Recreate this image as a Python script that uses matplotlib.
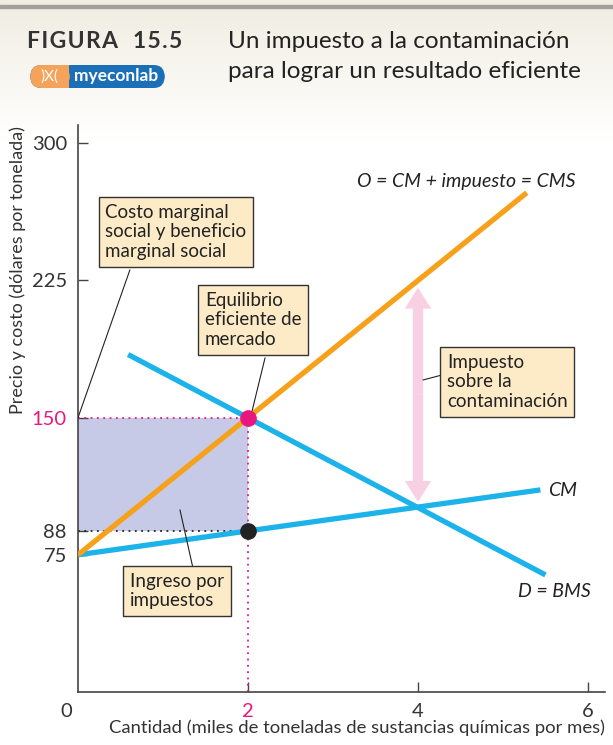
import numpy as np
import matplotlib.pyplot as plt
from matplotlib.patches import FancyArrowPatch, FancyBboxPatch, Rectangle

plt.rcParams['font.family'] = ['Lato', 'DejaVu Sans']

# datos del gráfico (miles de toneladas, dólares por tonelada)
q_cms = [0, 5.28]
p_cms = [75, 273]
q_cm = [0, 5.44]
p_cm = [75, 110.5]
q_d = [0.59, 5.5]
p_d = [184.5, 64]
q_eq = 2
p_eq = 150
p_cm_eq = 88
q_mercado = 4
p_tax_top = 221
p_tax_bot = 104

yticks = [75, 88, 150, 225, 300]
ytick_labels = ['75', '88', '150', '225', '300']
xticks = [2, 4, 6]
xtick_labels = ['2', '4', '6']

naranja = '#f7a11a'
azul = '#1cb2ea'
magenta = '#e8177f'
lila = '#c6cae6'
crema = '#fdebc8'

fig = plt.figure(figsize=(6.13, 7.45), dpi=100)

# fondo con degradado crema arriba
bg = fig.add_axes([0, 0, 1, 1], zorder=-10)
bg.axis('off')
grad = np.ones((745, 1, 3))
top = np.array([0.945, 0.933, 0.89])
for i in range(745):
    t = min(1.0, max(0.0, (i - 10) / 130))
    grad[i, 0] = top * (1 - t) + np.array([1, 1, 1]) * t
bg.imshow(grad, aspect='auto', extent=[0, 1, 0, 1])
bg.set_xlim(0, 1)
bg.set_ylim(0, 1)
bg.add_patch(Rectangle((0, 1 - 8 / 745), 1, 3 / 745, color='#a0a0a0', transform=bg.transAxes))

def fx(px):
    return px / 613

def fy(py):
    return 1 - py / 745

# encabezado
hs = '\u200a'
fig.text(fx(27), fy(42), hs.join('FIGURA'), fontsize=16.5, fontweight='bold', color='#333333', va='center')
fig.text(fx(133), fy(42), hs.join('15.5'), fontsize=16.5, fontweight='bold', color='#333333', va='center')
fig.text(fx(228), fy(42), 'Un impuesto a la contaminación', fontsize=17.5, color='#222222', va='center')
fig.text(fx(228), fy(72), 'para lograr un resultado eficiente', fontsize=17.5, color='#222222', va='center')

logo = FancyBboxPatch((fx(30), fy(88)), fx(135), 23 / 745, boxstyle='round,pad=0,rounding_size=0.018',
                      transform=fig.transFigure, fc='#1b6fb6', ec='none')
fig.patches.append(logo)
logo2 = FancyBboxPatch((fx(30), fy(88)), fx(40), 23 / 745, boxstyle='round,pad=0,rounding_size=0.018',
                       transform=fig.transFigure, fc='#f5a35a', ec='none')
fig.patches.append(logo2)
fig.patches.append(Rectangle((fx(58), fy(88)), fx(11), 23 / 745, transform=fig.transFigure, fc='#f5a35a', ec='none'))
fig.text(fx(49), fy(76.5), ')X(', fontsize=11, color='white', ha='center', va='center')
fig.text(fx(116), fy(76.5), 'myeconlab', fontsize=12.5, color='white', ha='center', va='center', fontweight='bold')

ax = fig.add_axes([78 / 613, 53 / 745, 527 / 613, 567 / 745])
ax.patch.set_alpha(0)
ax.set_xlim(0, 6.2)
ax.set_ylim(0, 310)

# ingreso por impuestos
ax.fill_between([0, q_eq], p_cm_eq, p_eq, color=lila, lw=0, zorder=1)
ax.plot([0, q_eq], [p_eq, p_eq], ls=(0, (1, 2.5)), color=magenta, lw=1.3, zorder=2)
ax.plot([q_eq, q_eq], [0, p_eq], ls=(0, (1, 2.5)), color=magenta, lw=1.3, zorder=2)
ax.plot([0, q_eq], [p_cm_eq, p_cm_eq], ls=(0, (1, 2.5)), color='#222222', lw=1.3, zorder=2)

# flecha del impuesto
mid = (p_tax_top + p_tax_bot) / 2
for end in (p_tax_top, p_tax_bot):
    arr = FancyArrowPatch((q_mercado, mid), (q_mercado, end),
                          arrowstyle='simple,head_width=19,head_length=15,tail_width=7.5',
                          mutation_scale=1, shrinkA=0, shrinkB=0, fc='#f8d0e3', ec='none', zorder=2)
    ax.add_patch(arr)

ax.plot(q_d, p_d, color=azul, lw=3.8, solid_capstyle='butt', zorder=3)
ax.plot(q_cm, p_cm, color=azul, lw=3.8, solid_capstyle='butt', zorder=3)
ax.plot(q_cms, p_cms, color=naranja, lw=3.8, solid_capstyle='butt', zorder=4)

ax.plot(q_eq, p_eq, 'o', color=magenta, ms=11, zorder=6)
ax.plot(q_eq, p_cm_eq, 'o', color='#222222', ms=11, zorder=6)

# etiquetas de las curvas
ax.text(5.85, 279, 'O = CM + impuesto = CMS', style='italic', fontsize=14, ha='right', va='center', color='#222222')
ax.text(5.53, 110, 'CM', style='italic', fontsize=14, ha='left', va='center', color='#222222')
ax.text(5.18, 55, 'D = BMS', style='italic', fontsize=14, ha='left', va='center', color='#222222')

caja = dict(boxstyle='square,pad=0.35', fc=crema, ec='#333333', lw=1)
kw = dict(fontsize=13.5, ha='center', va='center', multialignment='left', bbox=caja,
          linespacing=1.2, zorder=7, color='#222222')
ax.text(1.15, 251.5, 'Costo marginal\nsocial y beneficio\nmarginal social', **kw)
ax.plot([0.61, 0], [230.7, 150], color='#222222', lw=0.8, zorder=5)
ax.text(2.06, 203.4, 'Equilibrio\neficiente de\nmercado', **kw)
ax.plot([2.2, 2.05], [182.6, 154], color='#222222', lw=0.8, zorder=5)
ax.text(5.05, 169.5, 'Impuesto\nsobre la\ncontaminación', **kw)
ax.plot([4.28, 4.06], [173.3, 170.6], color='#222222', lw=0.8, zorder=5)
ax.text(1.165, 55.2, 'Ingreso por\nimpuestos', **kw)
ax.plot([1.35, 1.2], [68.3, 99.5], color='#222222', lw=0.8, zorder=5)

# ejes
for s in ['top', 'right']:
    ax.spines[s].set_visible(False)
for s in ['left', 'bottom']:
    ax.spines[s].set_color('#444444')
    ax.spines[s].set_linewidth(1.2)
ax.set_yticks(yticks)
ax.set_yticklabels(ytick_labels)
ax.set_xticks(xticks)
ax.set_xticklabels(xtick_labels)
ax.tick_params(direction='in', length=7, width=1, color='#444444', labelsize=14.5, labelcolor='#333333', pad=8)
ax.get_yticklabels()[2].set_color(magenta)
ax.get_xticklabels()[0].set_color(magenta)
ax.text(-0.07, -6, '0', fontsize=14.5, color='#333333', ha='right', va='top')

fig.text(fx(18), fy(270), 'Precio y costo (dólares por tonelada)', rotation=90, fontsize=13,
         color='#333333', ha='center', va='center')
fig.text(fx(605), fy(728), 'Cantidad (miles de toneladas de sustancias químicas por mes)', fontsize=13.3,
         color='#333333', ha='right', va='center')

fig.savefig('out.png', dpi=100)
